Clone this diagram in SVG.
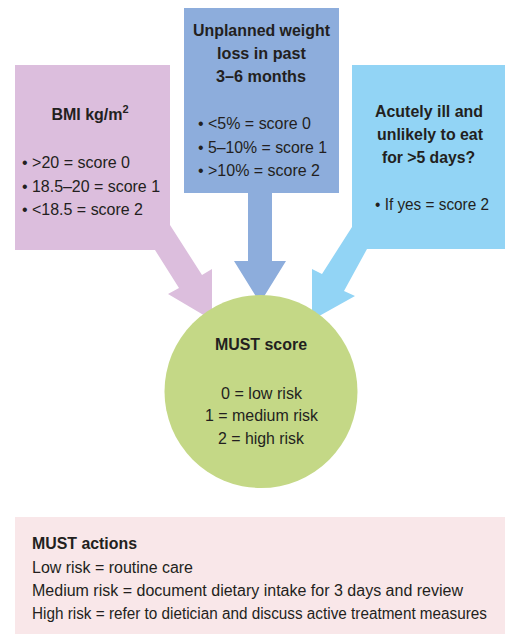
<svg xmlns="http://www.w3.org/2000/svg" width="505" height="634" viewBox="0 0 505 634">
<style>
text{font-family:"Liberation Sans",Arial,sans-serif;font-size:16px;fill:#231F20}
.b{font-weight:bold}
.m{text-anchor:middle}
</style>
<rect width="505" height="634" fill="#FFFFFF"/>
<g id="connectors"></g>
<g id="bmi">
<path d="M15,65 H170 V225 L202,275 L212,269 L212,320 L168,294 L179,288 L155,250 H15 Z" fill="#DCBEDD"/>
<text class="b m" x="90" y="120">BMI kg/m<tspan font-size="11" dy="-7">2</tspan></text>
<text x="22" y="168" textLength="108" lengthAdjust="spacingAndGlyphs">• &gt;20 = score 0</text>
<text x="22" y="191.5" textLength="138" lengthAdjust="spacingAndGlyphs">• 18.5–20 = score 1</text>
<text x="22" y="215" textLength="121" lengthAdjust="spacingAndGlyphs">• &lt;18.5 = score 2</text>
</g>
<g id="weight">
<path d="M184,8 H339 V193 H272 V261 H286 L260,303 L234,261 H248 V193 H184 Z" fill="#8DADDC"/>
<text class="b m" x="261.5" y="35.5" textLength="137" lengthAdjust="spacingAndGlyphs">Unplanned weight</text>
<text class="b m" x="261.5" y="58.5" textLength="89" lengthAdjust="spacingAndGlyphs">loss in past</text>
<text class="b m" x="261" y="82" textLength="90" lengthAdjust="spacingAndGlyphs">3–6 months</text>
<text x="198" y="129" textLength="113" lengthAdjust="spacingAndGlyphs">• &lt;5% = score 0</text>
<text x="198" y="152.5" textLength="129" lengthAdjust="spacingAndGlyphs">• 5–10% = score 1</text>
<text x="198" y="176" textLength="122" lengthAdjust="spacingAndGlyphs">• &gt;10% = score 2</text>
</g>
<g id="acute">
<path d="M352,65 H505 V249 H367 L344,291 L355,296 L312,320 L312,269 L322,274 L352,227 Z" fill="#92D4F5"/>
<text class="b m" x="429" y="116.5" textLength="108" lengthAdjust="spacingAndGlyphs">Acutely ill and</text>
<text class="b m" x="430" y="140" textLength="106" lengthAdjust="spacingAndGlyphs">unlikely to eat</text>
<text class="b m" x="428.5" y="163" textLength="93" lengthAdjust="spacingAndGlyphs">for &gt;5 days?</text>
<text x="375" y="210" textLength="114" lengthAdjust="spacingAndGlyphs">• If yes = score 2</text>
</g>
<g id="must">
<circle cx="261" cy="391.5" r="96.5" fill="#C4D886"/>
<text class="b m" x="261" y="349.5" textLength="92" lengthAdjust="spacingAndGlyphs">MUST score</text>
<text class="m" x="261.5" y="398.5" textLength="81" lengthAdjust="spacingAndGlyphs">0 = low risk</text>
<text class="m" x="261.5" y="421" textLength="113" lengthAdjust="spacingAndGlyphs">1 = medium risk</text>
<text class="m" x="261" y="444" textLength="86" lengthAdjust="spacingAndGlyphs">2 = high risk</text>
</g>
<g id="actions">
<rect x="15" y="517" width="490" height="117" fill="#F9E7E9"/>
<text class="b" x="32" y="549" textLength="105" lengthAdjust="spacingAndGlyphs">MUST actions</text>
<text x="32" y="573" textLength="161" lengthAdjust="spacingAndGlyphs">Low risk = routine care</text>
<text x="32" y="596" textLength="431" lengthAdjust="spacingAndGlyphs">Medium risk = document dietary intake for 3 days and review</text>
<text x="32" y="619" font-size="15" textLength="455" lengthAdjust="spacingAndGlyphs">High risk = refer to dietician and discuss active treatment measures</text>
</g>
</svg>
